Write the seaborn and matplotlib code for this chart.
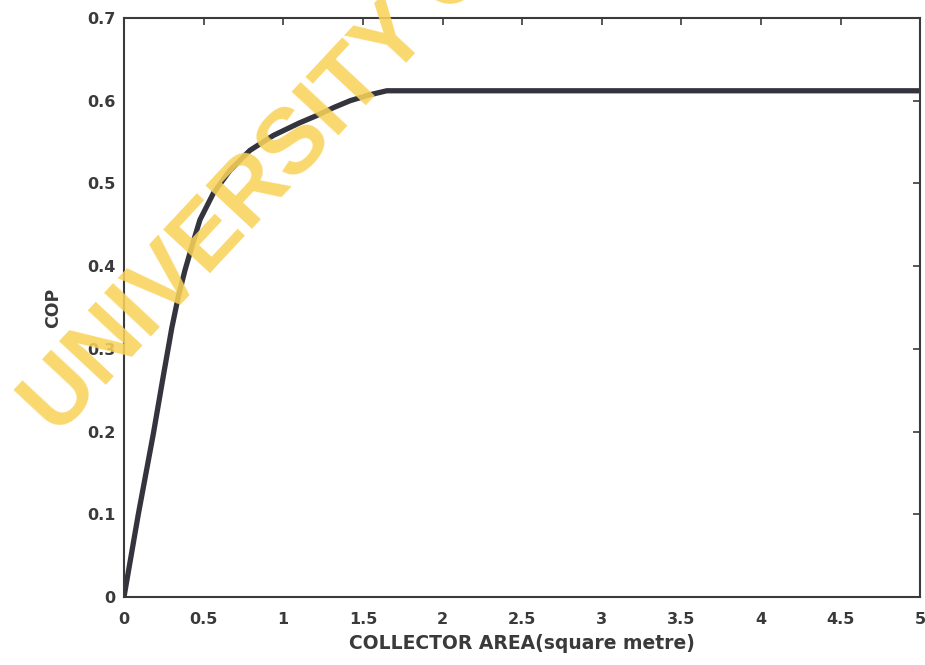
import matplotlib
matplotlib.use("Agg")
import matplotlib.pyplot as plt
import seaborn as sns
import pandas as pd

area = [0, 0.09, 0.185, 0.245, 0.30, 0.341, 0.383, 0.425, 0.477, 0.561, 0.666, 0.791, 0.938, 1.1, 1.21, 1.32, 1.42, 1.54, 1.65, 5.0]
cop = [0, 0.1, 0.198, 0.265, 0.325, 0.363, 0.395, 0.423, 0.456, 0.488, 0.516, 0.54, 0.558, 0.573, 0.582, 0.592, 0.60, 0.607, 0.612, 0.612]
xticks = [0, 0.5, 1, 1.5, 2, 2.5, 3, 3.5, 4, 4.5, 5]
xticklabels = ["0", "0.5", "1", "1.5", "2", "2.5", "3", "3.5", "4", "4.5", "5"]
yticks = [0, 0.1, 0.2, 0.3, 0.4, 0.5, 0.6, 0.7]
yticklabels = ["0", "0.1", "0.2", "0.3", "0.4", "0.5", "0.6", "0.7"]

sns.set_style("white")
plt.rcParams['font.family'] = ['DejaVu Sans']

df = pd.DataFrame({"area": area, "cop": cop})
fig = plt.figure(figsize=(9.25, 6.65), dpi=100)
ax = fig.add_axes([0.134, 0.102, 0.861, 0.871])
sns.lineplot(data=df, x="area", y="cop", ax=ax, color="#34343f", linewidth=3.8)
ax.set_xlim(0, 5)
ax.set_ylim(0, 0.7)
ax.set_xticks(xticks)
ax.set_xticklabels(xticklabels, fontweight="bold")
ax.set_yticks(yticks)
ax.set_yticklabels(yticklabels, fontweight="bold")
ax.tick_params(axis="both", direction="in", length=5, width=1.2, top=True, right=True,
               labelsize=11.5, colors="#3a3a3a")
ax.tick_params(axis="x", pad=11)
ax.tick_params(axis="y", pad=6)
for s in ax.spines.values():
    s.set_color("#3a3a3a")
    s.set_linewidth(1.5)
ax.set_xlabel("COLLECTOR AREA(square metre)", fontsize=13.5, fontweight="bold",
              color="#3a3a3a", labelpad=5)
ax.set_ylabel("COP", fontsize=12.5, fontweight="bold", color="#3a3a3a", labelpad=18)

fig.text(0.062, 0.343, "UNIVERSITY OF", rotation=47, rotation_mode="anchor",
         ha="left", va="baseline", fontsize=66, fontweight="bold", color="#F9D35A", alpha=0.88,
         family=["Liberation Sans", "DejaVu Sans"], zorder=10)

fig.savefig("out.png", dpi=100)
